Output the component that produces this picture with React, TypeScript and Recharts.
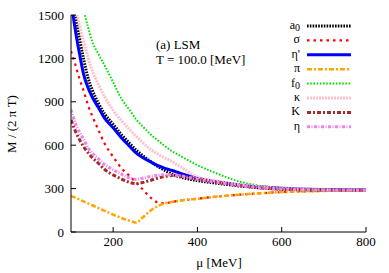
import React from 'react';
import { LineChart, Line, XAxis, YAxis, Legend, Customized } from 'recharts';

const mu = [100, 110, 120, 130, 140, 150, 165, 180, 200, 220, 240, 255, 270, 290, 305, 320, 340, 360, 400, 450, 500, 550, 600, 700, 800];

const a0 = [1700, 1500, 1340, 1195, 1070, 985, 890, 815, 745, 672, 610, 565, 528, 485, 455, 430, 400, 380, 355, 336, 318, 305, 296, 290, 288];
const sigma = [1250, 1160, 1060, 975, 880, 805, 705, 610, 520, 440, 385, 340, 295, 235, 205, 198, 208, 217, 230, 246, 258, 268, 276, 284, 288];
const etaPrime = [1600, 1400, 1235, 1090, 1000, 935, 860, 785, 720, 650, 590, 545, 515, 482, 460, 443, 425, 405, 372, 345, 325, 312, 303, 294, 290];
const pi = [250, 237, 224, 211, 198, 185, 166, 146, 120, 97, 77, 65, 100, 150, 178, 195, 208, 217, 230, 246, 258, 268, 276, 284, 288];
const f0 = [2000, 1830, 1680, 1540, 1420, 1320, 1230, 1150, 1035, 920, 840, 777, 730, 672, 635, 600, 558, 525, 462, 400, 348, 318, 295, 286, 287];
const kappa = [1750, 1560, 1430, 1315, 1210, 1120, 1020, 935, 840, 770, 705, 660, 618, 568, 540, 516, 487, 450, 380, 350, 328, 312, 302, 292, 289];
const kaon = [775, 700, 640, 590, 550, 515, 475, 432, 395, 366, 342, 335, 342, 358, 372, 383, 390, 385, 365, 342, 322, 305, 296, 290, 288];
const eta = [845, 755, 690, 640, 585, 545, 505, 465, 430, 400, 372, 365, 372, 385, 392, 396, 395, 388, 365, 342, 322, 305, 296, 290, 288];

const xTicks = [200, 400, 600, 800];
const yTicks = [0, 300, 600, 900, 1200, 1500];

const data = mu.map((m, i) => ({
  mu: m,
  a0: a0[i],
  sigma: sigma[i],
  etaPrime: etaPrime[i],
  pi: pi[i],
  f0: f0[i],
  kappa: kappa[i],
  kaon: kaon[i],
  eta: eta[i],
}));

const FONT = "'Liberation Serif', 'Times New Roman', serif";

type S = { key: string; label: React.ReactNode; color: string; width: number; dash?: string };

const sub = (t: string) => (
  <tspan dy={2} fontSize={10}>
    {t}
  </tspan>
);

const series: S[] = [
  { key: 'a0', label: <>a{sub('0')}</>, color: '#000000', width: 3, dash: '1.6 1.2' },
  { key: 'sigma', label: 'σ', color: '#ff0000', width: 2.2, dash: '2.5 4' },
  { key: 'etaPrime', label: "η'", color: '#0000ff', width: 3 },
  { key: 'pi', label: 'π', color: '#ffa500', width: 2.5, dash: '5 2 2 2' },
  { key: 'f0', label: <>f{sub('0')}</>, color: '#00e000', width: 2, dash: '1.6 1.6' },
  { key: 'kappa', label: 'κ', color: '#ffc0cb', width: 3, dash: '2 1' },
  { key: 'kaon', label: 'K', color: '#a52a2a', width: 3, dash: '4 2 2 2' },
  { key: 'eta', label: 'η', color: '#ee82ee', width: 3, dash: '3 1.5 1 1.5' },
];

const LegendBox = () => (
  <svg width={90} height={130} style={{ display: 'block' }}>
    {series.map((s, i) => {
      const cy = 11 + i * 14.4;
      return (
        <g key={s.key}>
          <text x={30} y={cy + 3} textAnchor="end" fontFamily={FONT} fontSize={12} fill="#000">
            {s.label}
          </text>
          <line x1={37} x2={81} y1={cy} y2={cy} stroke={s.color} strokeWidth={s.width} strokeDasharray={s.dash} />
        </g>
      );
    })}
  </svg>
);

const Texts = () => (
  <g fontSize={13} fill="#000" fontFamily={FONT}>
    <text x={156} y={49}>(a) LSM</text>
    <text x={156} y={64}>T = 100.0 [MeV]</text>
    <text x={219} y={267} textAnchor="middle">μ  [MeV]</text>
    <text x={0} y={0} textAnchor="middle" transform="translate(16,124) rotate(-90)">M / (2 π T)</text>
  </g>
);

export default function App() {
  return (
    <div style={{ position: 'absolute', left: 0, top: 0, background: '#fff' }}>
      <LineChart width={389} height={273} data={data} margin={{ top: 15, right: 23, left: 0, bottom: 0 }}>
        <XAxis
          xAxisId="b"
          dataKey="mu"
          type="number"
          domain={[100, 800]}
          ticks={xTicks}
          height={41}
          tickSize={-5}
          tickMargin={10}
          stroke="#000"
          tick={{ fill: '#000', fontSize: 13, fontFamily: FONT }}
          allowDataOverflow
        />
        <XAxis
          xAxisId="t"
          orientation="top"
          dataKey="mu"
          type="number"
          domain={[100, 800]}
          ticks={xTicks}
          height={0}
          tickSize={-5}
          stroke="#000"
          tickFormatter={() => ''}
          allowDataOverflow
        />
        <YAxis
          yAxisId="l"
          type="number"
          domain={[0, 1500]}
          ticks={yTicks}
          width={71}
          tickSize={-5}
          tickMargin={12}
          stroke="#000"
          tick={{ fill: '#000', fontSize: 13, fontFamily: FONT }}
          allowDataOverflow
        />
        <YAxis
          yAxisId="r"
          orientation="right"
          type="number"
          domain={[0, 1500]}
          ticks={yTicks}
          width={0}
          tickSize={-5}
          stroke="#000"
          tickFormatter={() => ''}
          allowDataOverflow
        />
        {series.map((s) => (
          <Line
            key={s.key}
            xAxisId="b"
            yAxisId="l"
            dataKey={s.key}
            type="monotone"
            stroke={s.color}
            strokeWidth={s.width}
            strokeDasharray={s.dash}
            dot={false}
            activeDot={false}
            isAnimationActive={false}
          />
        ))}
        <Legend
          layout="vertical"
          align="center"
          verticalAlign="middle"
          content={() => <LegendBox />}
          wrapperStyle={{ position: 'absolute', left: 270, top: 15, width: 90, height: 130 }}
        />
        <Customized component={Texts} />
      </LineChart>
    </div>
  );
}
